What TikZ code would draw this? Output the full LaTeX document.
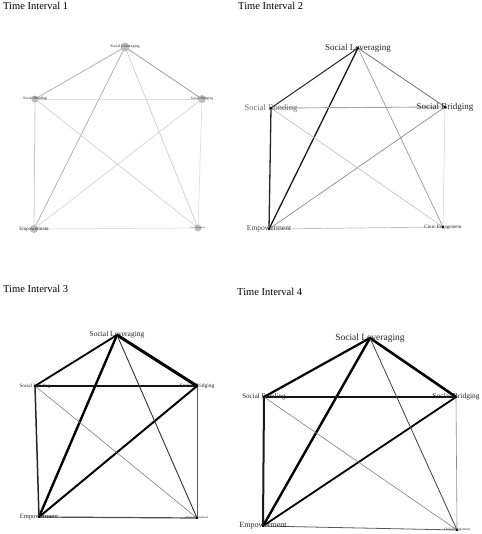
\documentclass[tikz,border=0pt]{standalone}
\usepackage{fontspec}
\setmainfont{Liberation Serif}
\usepackage{tikz}
\usetikzlibrary{positioning}
\definecolor{nodegray}{HTML}{BDBDBD}
\definecolor{labelgray}{HTML}{6E6E6E}
\tikzset{
  title/.style={font=\fontsize{10.5}{12}\selectfont,anchor=north west,inner sep=0pt},
  lbl/.style={inner sep=0pt,text=black!85},
  dot/.style={fill=black,inner sep=0pt,minimum size=2.4pt},
  bubble/.style={circle,fill=nodegray,inner sep=0pt},
}
\newcommand{\fs}[1]{\fontsize{#1}{#1}\selectfont}
\begin{document}
\begin{tikzpicture}[x=1pt,y=-1pt]
  \useasboundingbox[fill=white] (0,0) rectangle (481,534);

  % Time Interval 1
  \node[title] (t1) at (3,2) {Time Interval 1};
  \coordinate (lev1) at (125,47);
  \coordinate (bond1) at (35,99);
  \coordinate (bridg1) at (202,99);
  \coordinate (emp1) at (34,229);
  \coordinate (civ1) at (198,228);
  \foreach \a/\b/\w/\c in {lev1/bond1/0.8/black!30,lev1/bridg1/0.8/black!38,lev1/emp1/0.8/black!30,
      lev1/civ1/0.7/black!20,bond1/bridg1/0.8/black!14,bond1/emp1/0.8/black!20,bond1/civ1/0.7/black!18,
      bridg1/emp1/0.7/black!16,bridg1/civ1/0.7/black!12,emp1/civ1/0.7/black!13}
    \draw[line width=\w pt,\c] (\a) -- (\b);
  \node[bubble,minimum size=9pt] (lev1-d) at (lev1) {};
  \node[bubble,minimum size=7pt] (bond1-d) at (bond1) {};
  \node[bubble,minimum size=8pt] (bridg1-d) at (bridg1) {};
  \node[bubble,minimum size=8pt] (emp1-d) at (emp1) {};
  \node[bubble,minimum size=7pt] (civ1-d) at (civ1) {};
  \node[lbl,font=\fs{4}] (lev1-l) at (lev1) {Social Leveraging};
  \node[lbl,font=\fs{3.8}] (bond1-l) at (bond1) {Social Bonding};
  \node[lbl,font=\fs{3.5}] (bridg1-l) at (bridg1) {Social Bridging};
  \node[lbl,font=\fs{5}] (emp1-l) at (emp1) {Empowerment};
  \node[lbl,font=\fs{2}] (civ1-l) at (civ1) {Civic Engagement};

  % Time Interval 2
  \node[title] (t2) at (238,2) {Time Interval 2};
  \coordinate (lev2) at (358,48);
  \coordinate (bond2) at (271,108);
  \coordinate (bridg2) at (445,107);
  \coordinate (emp2) at (269,229);
  \coordinate (civ2) at (443,227);
  \foreach \a/\b/\w/\c in {lev2/bond2/1.0/black!85,lev2/emp2/1.3/black!90,bond2/emp2/1.3/black!85,
      lev2/bridg2/0.8/black!55,bond2/bridg2/0.9/black!35,lev2/civ2/0.7/black!40,bridg2/emp2/0.7/black!45,
      bond2/civ2/0.6/black!25,bridg2/civ2/0.5/black!18,emp2/civ2/0.7/black!25}
    \draw[line width=\w pt,\c] (\a) -- (\b);
  \foreach \n in {lev2,bond2,bridg2,emp2,civ2}
    \node[dot] (\n-d) at (\n) {};
  \node[lbl,font=\fs{9}] (lev2-l) at (lev2) {Social Leveraging};
  \node[lbl,font=\fs{8.5},text=labelgray] (bond2-l) at (bond2) {Social Bonding};
  \node[lbl,font=\fs{9}] (bridg2-l) at (bridg2) {Social Bridging};
  \node[lbl,font=\fs{7.5},text=black!75] (emp2-l) at (emp2) {Empowerment};
  \node[lbl,font=\fs{5}] (civ2-l) at (civ2) {Civic Engagement};

  % Time Interval 3
  \node[title] (t3) at (3,285) {Time Interval 3};
  \coordinate (lev3) at (117,335);
  \coordinate (bond3) at (35,386);
  \coordinate (bridg3) at (197,386);
  \coordinate (emp3) at (39,517);
  \coordinate (civ3) at (197,518);
  \foreach \a/\b/\w/\c in {lev3/bridg3/3.0/black,lev3/emp3/2.4/black,lev3/bond3/1.8/black,
      bond3/bridg3/1.8/black!92,bridg3/emp3/2.0/black,bond3/emp3/1.5/black!85,emp3/civ3/1.2/black!70,
      lev3/civ3/0.9/black!80,bond3/civ3/0.6/black!50,bridg3/civ3/0.8/black!65}
    \draw[line width=\w pt,\c] (\a) -- (\b);
  \foreach \n in {lev3,bond3,bridg3,emp3,civ3}
    \node[dot] (\n-d) at (\n) {};
  \node[lbl,font=\fs{7.5}] (lev3-l) at (lev3) {Social Leveraging};
  \node[lbl,font=\fs{5}] (bond3-l) at (bond3) {Social Bonding};
  \node[lbl,font=\fs{5.5}] (bridg3-l) at (bridg3) {Social Bridging};
  \node[lbl,font=\fs{6.5}] (emp3-l) at (emp3) {Empowerment};
  \node[lbl,font=\fs{3}] (civ3-l) at (civ3) {Civic Engagement};

  % Time Interval 4
  \node[title] (t4) at (237,288) {Time Interval 4};
  \coordinate (lev4) at (370,338);
  \coordinate (bond4) at (264,397);
  \coordinate (bridg4) at (456,397);
  \coordinate (emp4) at (263,526);
  \coordinate (civ4) at (457,530);
  \foreach \a/\b/\w/\c in {lev4/bridg4/2.6/black,lev4/bond4/2.2/black,lev4/emp4/2.4/black,
      bond4/bridg4/1.8/black!92,bond4/emp4/2.0/black!90,bridg4/emp4/1.8/black,lev4/civ4/0.8/black!75,
      bond4/civ4/0.6/black!50,bridg4/civ4/0.6/black!45,emp4/civ4/0.8/black!65}
    \draw[line width=\w pt,\c] (\a) -- (\b);
  \foreach \n in {lev4,bond4,bridg4,emp4,civ4}
    \node[dot] (\n-d) at (\n) {};
  \node[lbl,font=\fs{9.5}] (lev4-l) at (lev4) {Social Leveraging};
  \node[lbl,font=\fs{7}] (bond4-l) at (bond4) {Social Bonding};
  \node[lbl,font=\fs{7.5}] (bridg4-l) at (bridg4) {Social Bridging};
  \node[lbl,font=\fs{8}] (emp4-l) at (emp4) {Empowerment};
  \node[lbl,font=\fs{3.5}] (civ4-l) at (civ4) {Civic Engagement};
\end{tikzpicture}
\end{document}
